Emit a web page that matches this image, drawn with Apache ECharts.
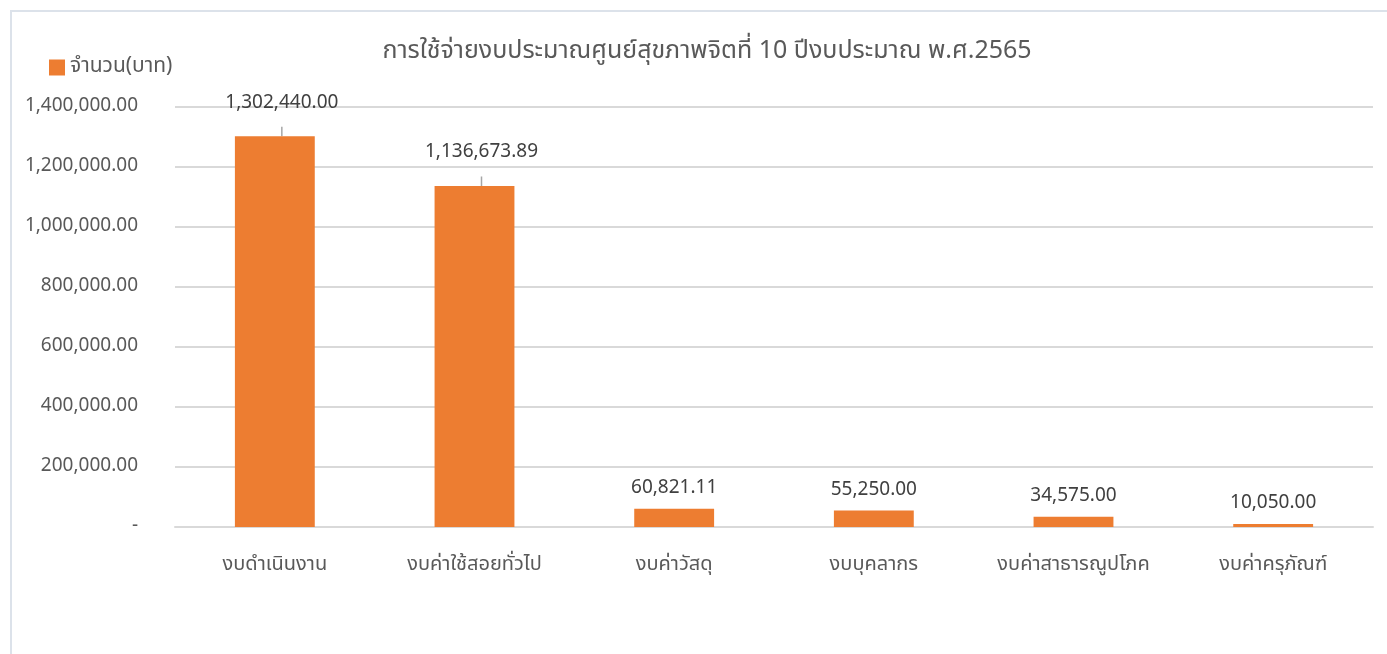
<!DOCTYPE html>
<html>
<head>
<meta charset="utf-8">
<script src="https://cdn.jsdelivr.net/npm/echarts@6/dist/echarts.min.js"></script>
<style>
  html,body{margin:0;padding:0;background:#fff;}
  .frame{position:absolute;left:10px;top:10px;right:0;bottom:0;border-top:2px solid #dce2ea;border-left:2px solid #dce2ea;background:#fff;}
  #chart{position:absolute;left:0;top:0;width:1387px;height:654px;}
</style>
</head>
<body>
<div class="frame"></div>
<div id="chart"></div>
<script>
const categories = ['งบดำเนินงาน','งบค่าใช้สอยทั่วไป','งบค่าวัสดุ','งบบุคลากร','งบค่าสาธารณูปโภค','งบค่าครุภัณฑ์'];
const amounts = [1302440.00, 1136673.89, 60821.11, 55250.00, 34575.00, 10050.00];
const seriesName = 'จำนวน(บาท)';
const titleText = 'การใช้จ่ายงบประมาณศูนย์สุขภาพจิตที่ 10 ปีงบประมาณ พ.ศ.2565';

const FONT = "'Noto Sans Thai','Noto Sans','Tahoma',sans-serif";
const fmt = v => Number(v).toLocaleString('en-US',{minimumFractionDigits:2,maximumFractionDigits:2});

// the two tall bars get their label lifted with a short leader line, like the excel chart
const barData = amounts.map((v,i) => i < 2
  ? {value:v, label:{distance:15, formatter:p => '{v|' + fmt(p.value) + '}\n{gap|}'}, labelLine:{show:true}}
  : {value:v, labelLine:{show:false}});

const chart = echarts.init(document.getElementById('chart'));
chart.setOption({
  backgroundColor:'transparent',
  textStyle:{fontFamily:FONT},
  title:{
    text:titleText,
    left:702, top:35, textAlign:'center',
    textStyle:{fontSize:25,fontWeight:'normal',color:'#595959',fontFamily:FONT}
  },
  legend:{
    left:44, top:52,
    itemWidth:16, itemHeight:16, icon:'rect', itemGap:8,
    textStyle:{fontSize:21,color:'#595959',fontFamily:FONT},
    data:[seriesName]
  },
  grid:{left:175,right:14,top:107,bottom:127,containLabel:false},
  xAxis:{
    type:'category',
    data:categories,
    axisLine:{show:true,lineStyle:{color:'#d9d9d9',width:2}},
    axisTick:{show:false},
    axisLabel:{fontSize:20,color:'#595959',margin:29,fontFamily:FONT,interval:0}
  },
  yAxis:{
    type:'value',
    min:0, max:1400000, interval:200000,
    axisLine:{show:false},
    axisTick:{show:false},
    splitLine:{lineStyle:{color:'#d9d9d9',width:2}},
    axisLabel:{
      fontSize:19,color:'#595959',margin:37,fontFamily:FONT,
      formatter:v => v === 0 ? '-' : fmt(v)
    }
  },
  series:[{
    name:seriesName,
    type:'bar',
    data:barData,
    barWidth:'40%',
    itemStyle:{color:'#ED7D31'},
    label:{
      show:true, position:'top', distance:10,
      fontSize:19, color:'#404040', fontFamily:FONT,
      formatter:p => fmt(p.value),
      rich:{
        v:{fontSize:19,color:'#404040',fontFamily:FONT},
        gap:{height:8}
      }
    },
    labelLine:{lineStyle:{color:'#a6a6a6',width:1.5}},
    labelLayout:function(p){
      if(p.dataIndex < 2){
        return {dx:7};
      }
      return {};
    }
  }]
});
</script>
</body>
</html>
